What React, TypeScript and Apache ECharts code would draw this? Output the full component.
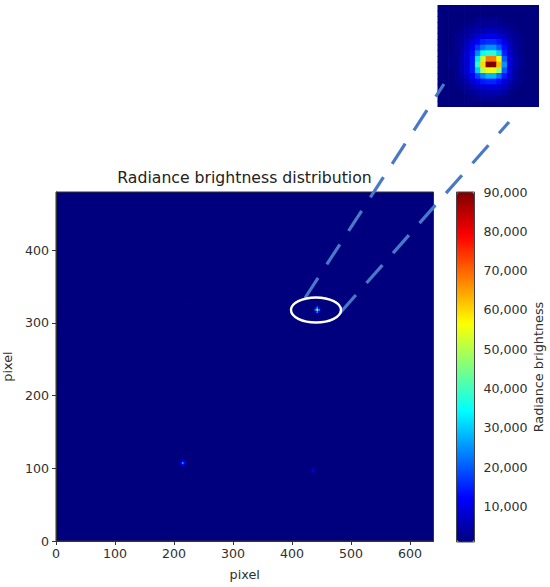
import React, { useEffect, useRef } from "react";
import * as echarts from "echarts";

const titleText = "Radiance brightness distribution";
const xTicks = [0, 100, 200, 300, 400, 500, 600];
const yTicks = [0, 100, 200, 300, 400];
const barTicks = [10000, 20000, 30000, 40000, 50000, 60000, 70000, 80000, 90000];
const jet = ["#00007f", "#0000ff", "#007fff", "#00ffff", "#7fff7f", "#ffff00", "#ff7f00", "#ff0000", "#7f0000"];

// bright spots on the full frame: [x pixel, y pixel, brightness]
const spotMain = [
  [437, 318, 5000], [440, 321, 10000], [440, 318, 24000], [440, 315, 10000],
  [443, 324, 5000], [443, 321, 24000], [443, 318, 56000], [443, 315, 24000], [443, 312, 5000],
  [446, 321, 10000], [446, 318, 24000], [446, 315, 10000], [449, 318, 5000],
];
const spotLeft = [
  [212, 110, 6000], [212, 107, 12000], [212, 104, 6000],
  [215, 110, 12000], [215, 107, 27000], [215, 104, 12000],
  [218, 110, 6000], [218, 107, 12000], [218, 104, 6000],
];
const spotRight = [
  [433, 100, 2500], [433, 97, 5000], [433, 94, 2500],
  [436, 100, 5000], [436, 97, 12000], [436, 94, 5000],
  [439, 100, 2500], [439, 97, 5000], [439, 94, 2500],
];
const spotFaint = [[220, 328, 3500]];

// zoomed patch, brightness in thousands, top row first
const patchRows = [
  [1, 1, 1, 1, 1, 1, 1, 1, 1, 1, 1, 1, 1, 1, 1, 1, 1, 1, 1],
  [1, 1, 1, 1, 1, 1, 1, 1, 1, 1, 1, 1, 1, 1, 1, 1, 1, 1, 1],
  [1, 1, 1, 1, 1, 1, 1, 2, 2, 2, 2, 2, 1, 1, 1, 1, 1, 1, 1],
  [1, 1, 1, 1, 1, 2, 2, 3, 3, 3, 3, 3, 2, 2, 1, 1, 1, 1, 1],
  [1, 1, 1, 1, 2, 3, 4, 5, 5, 6, 6, 5, 4, 3, 2, 1, 1, 1, 1],
  [1, 1, 1, 2, 3, 4, 6, 8, 9, 10, 10, 9, 7, 4, 3, 2, 1, 1, 1],
  [1, 1, 1, 2, 3, 6, 9, 12, 15, 16, 16, 14, 10, 6, 3, 2, 1, 1, 1],
  [1, 1, 1, 2, 4, 7, 11, 17, 22, 25, 25, 20, 13, 7, 4, 2, 1, 1, 1],
  [1, 1, 1, 2, 4, 8, 13, 24, 35, 38, 38, 30, 15, 8, 4, 2, 1, 1, 1],
  [1, 1, 2, 2, 5, 8, 14, 33, 52, 68, 68, 55, 20, 9, 5, 3, 1, 1, 1],
  [1, 1, 2, 2, 5, 8, 14, 38, 60, 90, 90, 62, 25, 9, 5, 3, 1, 1, 1],
  [1, 1, 1, 2, 5, 8, 14, 30, 50, 55, 55, 48, 20, 9, 4, 2, 1, 1, 1],
  [1, 1, 1, 2, 4, 7, 12, 18, 24, 28, 28, 22, 14, 8, 4, 2, 1, 1, 1],
  [1, 1, 1, 2, 3, 5, 8, 11, 14, 15, 15, 13, 9, 6, 3, 2, 1, 1, 1],
  [1, 1, 1, 1, 2, 3, 5, 7, 8, 9, 9, 8, 6, 4, 2, 1, 1, 1, 1],
  [1, 1, 1, 1, 1, 2, 3, 4, 5, 5, 5, 5, 4, 2, 1, 1, 1, 1, 1],
  [1, 1, 1, 1, 1, 1, 2, 2, 3, 3, 3, 2, 2, 1, 1, 1, 1, 1, 1],
  [1, 1, 1, 1, 1, 1, 1, 1, 1, 1, 1, 1, 1, 1, 1, 1, 1, 1, 1],
];

const FONT = "DejaVu Sans";
const TEXT = "#2e2e2e";
const BLUE = "#4a78c8";

export default function App() {
  const ref = useRef<HTMLDivElement>(null);
  useEffect(() => {
    document.body.style.margin = "0";
    const chart = echarts.init(ref.current!, undefined, { renderer: "svg" });
    const patchData: number[][] = [];
    patchRows.forEach((row, r) => row.forEach((v, c) => patchData.push([c, r, v * 1000])));
    const baseAxis = {
      axisLine: { show: true, lineStyle: { color: "#333", width: 1 } },
      splitLine: { show: false },
    };
    const labelStyle = { color: TEXT, fontFamily: FONT, fontSize: 12.6 };
    const nameStyle = { color: TEXT, fontFamily: FONT, fontSize: 12.8 };
    chart.setOption({
      animation: false,
      backgroundColor: "#ffffff",
      title: {
        text: titleText,
        left: 239.5,
        top: 164,
        textAlign: "center",
        textStyle: { color: "#222", fontFamily: FONT, fontSize: 15.7, fontWeight: "normal" },
      },
      visualMap: {
        type: "continuous",
        min: 1000,
        max: 90000,
        dimension: 2,
        seriesIndex: [0, 1],
        left: 457,
        top: 192,
        padding: 0,
        itemWidth: 17,
        itemHeight: 350,
        calculable: false,
        hoverLink: false,
        text: ["", ""],
        textGap: 0,
        inRange: { color: jet },
      },
      grid: [
        { left: 56, top: 192, width: 377.5, height: 349, show: true, backgroundColor: "#00007f", borderColor: "#333", borderWidth: 1, outerBoundsMode: "none" },
        { left: 437.5, top: 5, width: 101.5, height: 102, outerBoundsMode: "none" },
        { left: 456.5, top: 192, width: 18, height: 350, show: true, backgroundColor: "transparent", borderColor: "#444", borderWidth: 1, z: 5, outerBoundsMode: "none" },
      ],
      xAxis: [
        {
          ...baseAxis, type: "value", gridIndex: 0, min: 0, max: 640,
          name: "pixel", nameLocation: "middle", nameGap: 27, nameTextStyle: nameStyle,
          axisTick: { show: true, length: 4, lineStyle: { color: "#333" }, customValues: xTicks },
          axisLabel: { ...labelStyle, margin: 6, customValues: xTicks },
        },
        { type: "value", gridIndex: 1, show: false, min: 0, max: patchRows[0].length },
        { type: "value", gridIndex: 2, show: false, min: 0, max: 1 },
      ],
      yAxis: [
        {
          ...baseAxis, type: "value", gridIndex: 0, min: 0, max: 480,
          name: "pixel", nameLocation: "middle", nameGap: 39, nameTextStyle: nameStyle,
          axisTick: { show: true, length: 4, lineStyle: { color: "#333" }, customValues: yTicks },
          axisLabel: { ...labelStyle, margin: 7, customValues: yTicks },
        },
        { type: "value", gridIndex: 1, show: false, inverse: true, min: 0, max: patchRows.length },
        {
          ...baseAxis, type: "value", gridIndex: 2, position: "right", min: 1000, max: 90000,
          name: "Radiance brightness", nameLocation: "middle", nameGap: 57, nameRotate: 90, nameTextStyle: nameStyle,
          axisLine: { show: false },
          axisTick: { show: true, length: 4, lineStyle: { color: "#333" }, customValues: barTicks },
          axisLabel: {
            ...labelStyle, margin: 9, customValues: barTicks,
            formatter: (v: number) => v.toLocaleString("en-US"),
          },
        },
      ],
      series: [
        {
          type: "custom",
          xAxisIndex: 0,
          yAxisIndex: 0,
          silent: true,
          encode: { x: 0, y: 1 },
          data: [...spotFaint, ...spotLeft, ...spotRight, ...spotMain],
          renderItem: (_: any, api: any) => {
            const p = api.coord([api.value(0), api.value(1)]);
            const s = api.size([3, 3]);
            return {
              type: "rect",
              shape: { x: p[0] - s[0] / 2, y: p[1] - s[1] / 2, width: s[0], height: s[1] },
              style: { fill: api.visual("color") },
            };
          },
        },
        {
          type: "custom",
          xAxisIndex: 1,
          yAxisIndex: 1,
          silent: true,
          encode: { x: 0, y: 1 },
          data: patchData,
          renderItem: (_: any, api: any) => {
            const a = api.coord([api.value(0), api.value(1)]);
            const b = api.coord([api.value(0) + 1, api.value(1) + 1]);
            const w = Math.abs(b[0] - a[0]);
            const h = Math.abs(b[1] - a[1]);
            return {
              type: "rect",
              shape: { x: a[0], y: a[1], width: w + (api.value(0) < patchRows[0].length - 1 ? 0.7 : 0), height: h + (api.value(1) < patchRows.length - 1 ? 0.7 : 0) },
              style: { fill: api.visual("color") },
            };
          },
        },
      ],
      graphic: [
        {
          type: "line", z: 50, silent: true,
          shape: { x1: 305, y1: 298, x2: 444, y2: 84 },
          style: { stroke: BLUE, lineWidth: 3.2, lineDash: [24, 16] },
        },
        {
          type: "line", z: 50, silent: true,
          shape: { x1: 340, y1: 313, x2: 509, y2: 122 },
          style: { stroke: BLUE, lineWidth: 3.2, lineDash: [24, 16] },
        },
        {
          type: "ellipse", z: 51, silent: true,
          shape: { cx: 316, cy: 310, rx: 25, ry: 12.5 },
          style: { fill: "none", stroke: "#ffffff", lineWidth: 2.4 },
        },
      ],
    });
    return () => chart.dispose();
  }, []);
  return <div ref={ref} style={{ width: 550, height: 587 }} />;
}
